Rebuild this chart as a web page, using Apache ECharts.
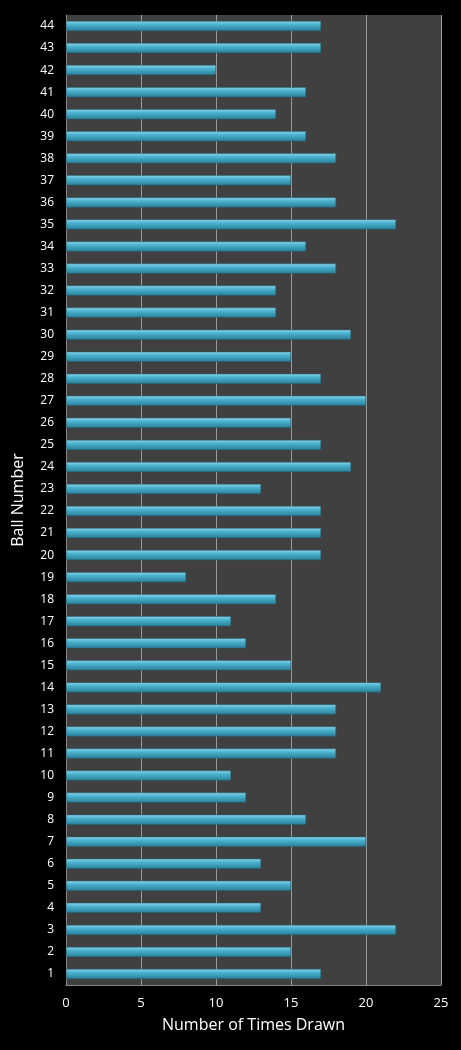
<!DOCTYPE html>
<html>
<head>
<meta charset="utf-8">
<script src="https://cdn.jsdelivr.net/npm/echarts@6/dist/echarts.min.js"></script>
<style>html,body{margin:0;background:#000;}#chart{width:461px;height:1050px;}</style>
</head>
<body>
<div id="chart"></div>
<script>
var balls = [];
for (var i = 1; i <= 44; i++) balls.push(String(i));
var drawn = [17, 15, 22, 13, 15, 13, 20, 16, 12, 11,
             18, 18, 18, 21, 15, 12, 11, 14, 8, 17,
             17, 17, 13, 19, 17, 15, 20, 17, 15, 19,
             14, 14, 18, 16, 22, 18, 15, 18, 16, 14,
             16, 10, 17, 17];
var xTicks = [0, 5, 10, 15, 20, 25];

var chart = echarts.init(document.getElementById('chart'));
chart.setOption({
    backgroundColor: '#000',
    animation: false,
    grid: {
        left: 66,
        right: 20,
        top: 15,
        bottom: 65,
        show: true,
        backgroundColor: '#404040',
        borderWidth: 0
    },
    xAxis: {
        type: 'value',
        min: xTicks[0],
        max: xTicks[xTicks.length - 1],
        interval: 5,
        name: 'Number of Times Drawn',
        nameLocation: 'middle',
        nameGap: 32,
        nameTextStyle: { color: '#fff', fontSize: 16, fontFamily: 'Open Sans' },
        axisLine: { show: true, lineStyle: { color: '#888' } },
        axisTick: { show: false },
        axisLabel: { color: '#fff', fontSize: 13, fontFamily: 'Open Sans', margin: 12 },
        splitLine: { lineStyle: { color: '#9a9a9a', width: 1 } }
    },
    yAxis: {
        type: 'category',
        data: balls,
        name: 'Ball Number',
        nameLocation: 'middle',
        nameGap: 40,
        nameTextStyle: { color: '#fff', fontSize: 16, fontFamily: 'Open Sans' },
        axisLine: { show: true, lineStyle: { color: '#888' } },
        axisTick: { show: false },
        axisLabel: { color: '#fff', fontSize: 12, fontFamily: 'Open Sans', margin: 12 }
    },
    series: [{
        type: 'bar',
        data: drawn,
        barWidth: 10,
        itemStyle: {
            color: new echarts.graphic.LinearGradient(0, 0, 0, 1, [
                { offset: 0, color: '#8fd6ea' },
                { offset: 0.35, color: '#4bb3d0' },
                { offset: 1, color: '#2a7f98' }
            ]),
            borderColor: '#1f6476',
            borderWidth: 0.5
        }
    }]
});
</script>
</body>
</html>
